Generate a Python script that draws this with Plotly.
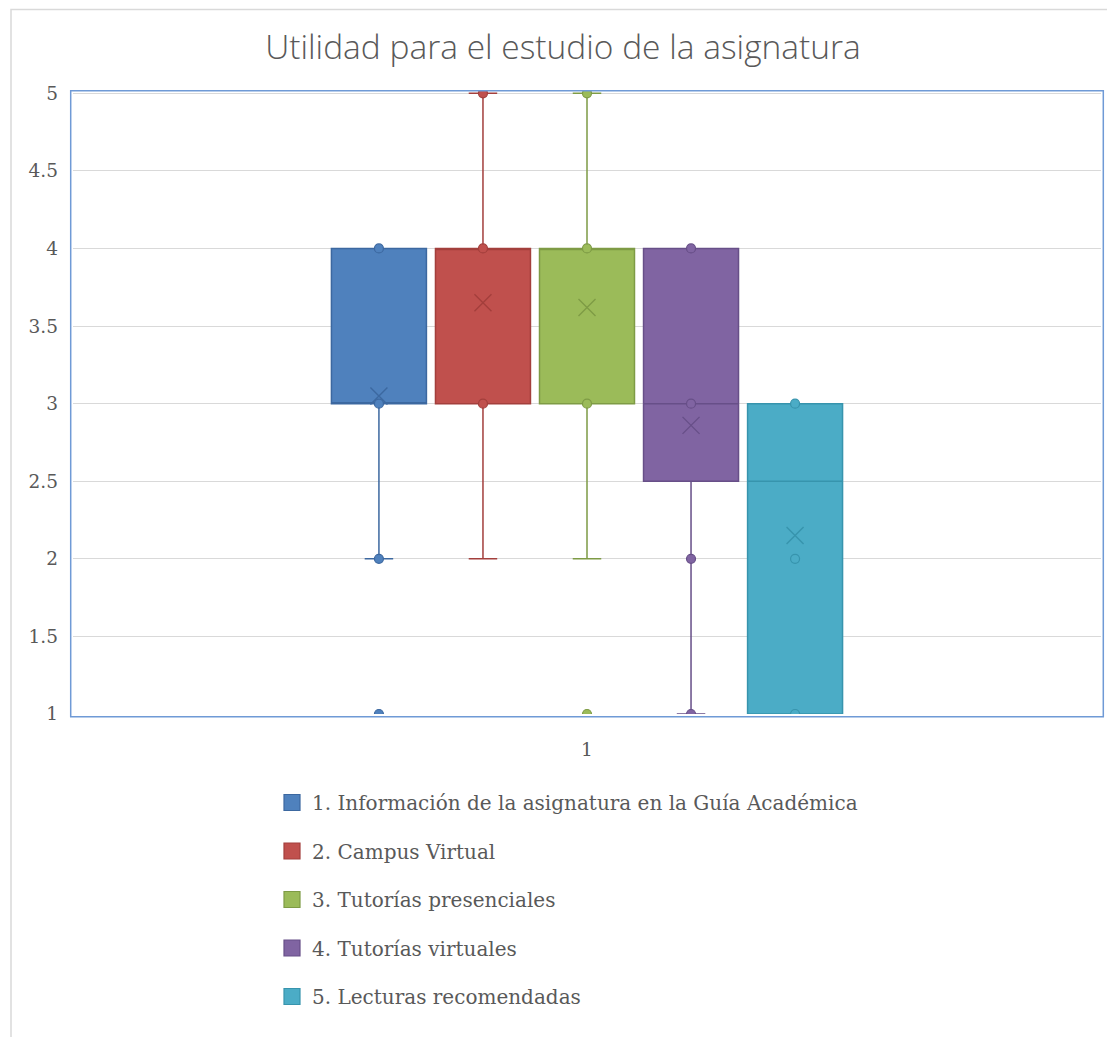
import plotly.graph_objects as go

# ---------------- data ----------------
category = ["1"]
series = [
    "1. Información de la asignatura en la Guía Académica",
    "2. Campus Virtual",
    "3. Tutorías presenciales",
    "4. Tutorías virtuales",
    "5. Lecturas recomendadas",
]
q1 = [3, 3, 3, 2.5, 1]
median = [3, 4, 4, 3, 2.5]
q3 = [4, 4, 4, 4, 3]
lower_whisker = [2, 2, 2, 1, 1]
upper_whisker = [4, 5, 5, 4, 3]
means = [3.05, 3.65, 3.62, 2.86, 2.15]
points = [
    [4, 3, 2, 1],
    [5, 4, 3],
    [5, 4, 3, 1],
    [4, 3, 2, 1],
    [3, 2, 1],
]
y_ticks = [1, 1.5, 2, 2.5, 3, 3.5, 4, 4.5, 5]

# ---------------- styles ----------------
fill = ["#4F81BD", "#C0504D", "#9BBB59", "#8064A2", "#4BACC6"]
dark = ["#3C68A0", "#A33F3C", "#7E9B45", "#674F88", "#3794AD"]
text_col = "#595959"
grid_col = "#D9D9D9"

fig = go.Figure()

for i, name in enumerate(series):
    fig.add_trace(go.Box(
        x=category,
        q1=[q1[i]], median=[median[i]], q3=[q3[i]],
        lowerfence=[lower_whisker[i]], upperfence=[upper_whisker[i]],
        name=name, offsetgroup=str(i), showlegend=False,
        fillcolor=fill[i],
        line=dict(color=dark[i], width=1.5),
        whiskerwidth=0.3,
        hoverinfo="skip",
    ))

for i, name in enumerate(series):
    ys = points[i] + [means[i]]
    n = len(points[i])
    fig.add_trace(go.Scatter(
        x=category * (n + 1),
        y=ys,
        mode="markers",
        name=name, offsetgroup=str(i), showlegend=False,
        marker=dict(
            symbol=["circle"] * n + ["x-thin-open"],
            size=[9] * n + [17],
            color=[fill[i]] * n + [dark[i]],
            opacity=1,
            line=dict(color=dark[i], width=[1.2] * n + [1.4]),
        ),
        cliponaxis=True,
        hoverinfo="skip",
    ))

# legend entries
for i, name in enumerate(series):
    fig.add_trace(go.Scatter(
        x=[None], y=[None], mode="markers", name=name,
        legendgroup=str(i),
        marker=dict(symbol="square", size=16, color=fill[i],
                    line=dict(color=dark[i], width=1.2)),
        xaxis="x2", yaxis="y2", showlegend=True,
    ))

L, R, T, B = 73, 6, 90, 323
W, H = 1107, 1037
pw = W - L - R
ph = H - T - B

def px_x(p):
    return (p - L) / pw

def px_y(p):
    return (H - B - p) / ph

shapes = [
    # outer chart border
    dict(type="rect", xref="paper", yref="paper",
         x0=px_x(11), x1=px_x(1125), y0=px_y(1060), y1=px_y(9.5),
         line=dict(color="#D9D9D9", width=1.5), fillcolor="rgba(0,0,0,0)", layer="below"),
    # plot area frame
    dict(type="rect", xref="paper", yref="paper",
         x0=px_x(70.7), x1=px_x(1103.3), y0=px_y(716.8), y1=px_y(90.7),
         line=dict(color="#6F9AD6", width=1.5), fillcolor="rgba(0,0,0,0)", layer="above"),
]

fig.update_layout(
    width=W, height=H,
    margin=dict(l=L, r=R, t=T, b=B, pad=0),
    paper_bgcolor="white", plot_bgcolor="white",
    title=dict(text="Utilidad para el estudio de la asignatura",
               x=563 / W, xref="container", xanchor="center",
               y=1 - 47 / H, yref="container", yanchor="middle",
               font=dict(family="Open Sans", size=33.5, color=text_col, weight=300)),
    boxmode="group", boxgap=0.494, boxgroupgap=0.087,
    scattermode="group", scattergap=0.494,
    xaxis=dict(type="category", range=[-0.5, 0.5], showgrid=False, zeroline=False,
               showline=False, ticks="", ticklabelstandoff=22,
               tickfont=dict(family="DejaVu Serif", size=18.5, color=text_col)),
    yaxis=dict(range=[1, 5 + 3.3 / 155.2], tickvals=y_ticks,
               ticktext=[("%g" % v) for v in y_ticks],
               showgrid=True, gridcolor=grid_col, gridwidth=1.3,
               zeroline=False, showline=False, ticks="", ticklabelstandoff=14,
               tickfont=dict(family="DejaVu Serif", size=18.5, color=text_col)),
    xaxis2=dict(overlaying="x", visible=False, range=[0, 1]),
    yaxis2=dict(overlaying="y", visible=False, range=[0, 1]),
    legend=dict(x=px_x(272), y=px_y(783), xanchor="left", yanchor="top",
                orientation="v", tracegroupgap=19.5, traceorder="grouped",
                font=dict(family="DejaVu Serif", size=20, color=text_col),
                bgcolor="rgba(0,0,0,0)"),
    shapes=shapes,
    showlegend=True,
)

fig.write_html("out.html")
